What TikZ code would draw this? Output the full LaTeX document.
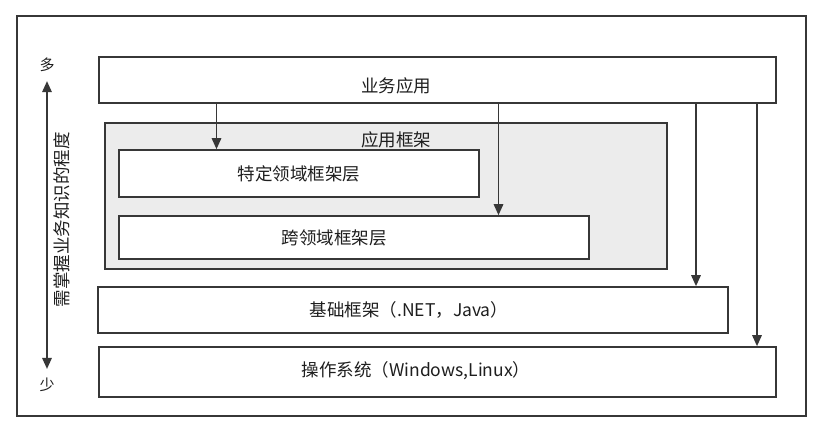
\documentclass[tikz,border=0pt]{standalone}
\usepackage{fontspec}
\setmainfont{Noto Sans CJK SC}
\usepackage{tikz}
\newcommand{\layerheight}{46pt}
\newcommand{\labelfont}{\fontsize{17.5}{21}\selectfont}
\usetikzlibrary{arrows.meta}
\definecolor{linegray}{RGB}{55,55,55}
\definecolor{framegray}{RGB}{236,236,236}
\definecolor{textgray}{RGB}{30,30,30}
\tikzset{
  >={Triangle[length=11pt,width=9.5pt]},
  font=\labelfont,
  text=textgray,
  layerbox/.style={draw=linegray,line width=1.7pt,fill=white,shape=rectangle,minimum height=\layerheight,inner sep=0},
  groupbox/.style={layerbox,fill=framegray},
  txt/.style={inner sep=0},
  endtxt/.style={txt,font=\fontsize{15}{18}\selectfont},
  line/.style={draw=linegray,->,line width=1.6pt}
}

\begin{document}
\begin{tikzpicture}[x=1pt,y=-1pt]
    \useasboundingbox (0,0) rectangle (821,440);
    \node (frame) [layerbox,line width=1.3pt,minimum width=789pt,minimum height=400pt] at (411.5,216) {};

    % layers
    \node (biz) [layerbox,minimum width=677pt] at (437.5,80) {};
    \node (appframe) [groupbox,minimum width=562pt,minimum height=146pt] at (386,196) {};
    \node (domain) [layerbox,minimum width=360pt,minimum height=47pt] at (299,173.5) {};
    \node (crossdomain) [layerbox,minimum width=470pt,minimum height=43pt] at (354,237.5) {};
    \node (infra) [layerbox,minimum width=630pt] at (413,310) {};
    \node (os) [layerbox,minimum width=677pt,minimum height=50pt] at (437.5,372) {};

    \node (biztext) [txt] at (396,86) {业务应用};
    \node (appframetext) [txt] at (396,140) {应用框架};
    \node (domaintext) [txt] at (299,174) {特定领域框架层};
    \node (crossdomaintext) [txt] at (334,238) {跨领域框架层};
    \node (infratext) [txt] at (409,310) {基础框架（.NET，Java）};
    \node (ostext) [txt] at (416,371) {操作系统（Windows,Linux）};

    \coordinate (x1) at (216.5,0);
    \coordinate (x2) at (498.5,0);
    \coordinate (x3) at (696,0);
    \coordinate (x4) at (757,0);
    \path [line] (biz.south -| x1) -- (domain.north -| x1);
    \path [line] (biz.south -| x2) -- (crossdomain.north -| x2);
    \path [line] (biz.south -| x3) -- (infra.north -| x3);
    \path [line] (biz.south -| x4) -- (os.north -| x4);

    % axis on the left
    \node (more) [endtxt] at (47,65) {多};
    \node (less) [endtxt] at (47,385) {少};
    \path [line,<->,shorten <=9pt,shorten >=9pt] (more) -- (less);
    \node (axistext) [txt,rotate=90] at (61.5,219.5) {需掌握业务知识的程度};
\end{tikzpicture}
\end{document}
